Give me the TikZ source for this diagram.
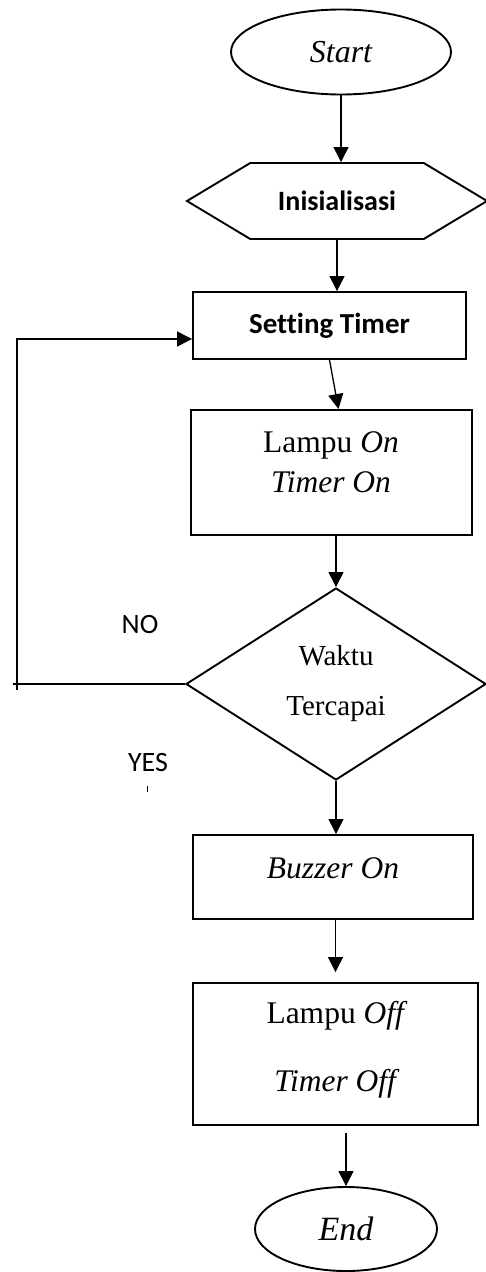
\documentclass[tikz,border=0pt]{standalone}
\usepackage{fontspec}
\setmainfont{Liberation Serif}
\newfontfamily\calibrifont[Ligatures=NoCommon]{Carlito}
\usetikzlibrary{arrows.meta,shapes.geometric,shapes.symbols}

\begin{document}
\begin{tikzpicture}[x=1pt,y=-1pt,>={Triangle[length=15pt,width=15pt]}]
       \tikzstyle{term}=[ellipse,draw,line width=1.9pt,inner sep=0pt]
       \tikzstyle{prep}=[signal,signal to=west and east,signal pointer angle=62,draw,line width=1.9pt,inner sep=0pt,
                         font=\calibrifont\bfseries\fontsize{28}{34}\selectfont]
       \tikzstyle{proc}=[rectangle,draw,line width=1.9pt,inner sep=0pt]
       \tikzstyle{decide}=[diamond,draw,line width=1.9pt,inner sep=0pt,align=center,
                           font=\fontsize{29}{50}\selectfont]
       \tikzstyle{txt}=[align=center,inner sep=0pt]
       \tikzstyle{lbl}=[inner sep=0pt,font=\calibrifont\fontsize{28}{34}\selectfont]
       \tikzstyle{flow}=[->,line width=1.3pt]

       \useasboundingbox (0,0) rectangle (486,1272);

       \node[term,minimum width=220pt,minimum height=85pt,font=\itshape\fontsize{32}{38}\selectfont] (start) at (341,52) {Start};
       \node[prep,minimum width=300pt,minimum height=76pt] (init) at (337,201) {Inisialisasi};
       \node[proc,minimum width=273pt,minimum height=67pt,font=\calibrifont\bfseries\fontsize{29}{34}\selectfont] (setting) at (329.5,325.5) {Setting Timer};

       % lamp and timer on
       \node[proc,minimum width=281pt,minimum height=125pt] (lampuon) at (331.5,472.5) {};
       \node[txt,font=\fontsize{31.5}{40}\selectfont] (lampuontxt) at (331,462) {Lampu \textit{On}\\\textit{Timer On}};

       \node[decide,minimum width=300pt,minimum height=192pt] (waktu) at (336,684) {Waktu\\Tercapai};

       \node[proc,minimum width=280pt,minimum height=84pt] (buzzer) at (333,877) {};
       \node[txt,font=\fontsize{31.5}{38}\selectfont] (buzzertxt) at (333,868) {\textit{Buzzer On}};

       % lamp and timer off
       \node[proc,minimum width=285pt,minimum height=142pt] (lampuoff) at (335.5,1054) {};
       \node[txt,font=\fontsize{31.5}{68}\selectfont] (lampuofftxt) at (337,1050) {Lampu \textit{Off}\\\textit{Timer Off}};

       \node[term,minimum width=182pt,minimum height=84pt,font=\itshape\fontsize{34}{40}\selectfont] (end) at (346,1229) {End};

       \node[lbl] (no) at (140,625) {NO};
       \node[lbl] (yes) at (148,763) {YES};
       \draw[line width=1pt] (147,786) -- (147,792);

       \path[flow]
       (start.south) edge (start.south |- init.north)
       (init.south) edge (init.south |- setting.north)
       (setting.south) edge ([xshift=7pt]lampuon.north)
       (waktu.north |- lampuon.south) edge (waktu.north)
       (waktu.south) edge (waktu.south |- buzzer.north)
       (buzzer.south -| lampuoff.north) edge[shorten >=10pt] (lampuoff.north)
       (end.north |- lampuoff.south) edge[shorten <=7pt] (end.north);

       % NO branch back to the timer setting
       \coordinate (back) at (17,684);
       \draw[line width=1.3pt] (waktu.west) -- ([xshift=-4pt]back);
       \draw[flow] ([yshift=-6pt]back) |- ([yshift=-13.5pt]setting.west);
     \end{tikzpicture}
\end{document}
